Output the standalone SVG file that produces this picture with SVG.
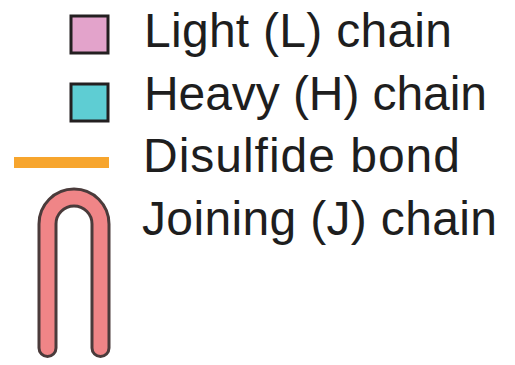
<svg xmlns="http://www.w3.org/2000/svg" width="515" height="365" viewBox="0 0 515 365">
  <style>
    .label { font-family: "Liberation Sans", Arial, sans-serif; font-size: 48px; fill: #1e1e1e; }
    .swatch { stroke: #231f20; stroke-width: 3; }
  </style>
  <rect width="515" height="365" fill="#ffffff"/>

  <!-- Light chain -->
  <g id="light-chain">
    <rect class="swatch" x="71" y="16" width="37" height="37" fill="#e3a3cb"/>
    <text class="label" x="144" y="47" textLength="308" lengthAdjust="spacing">Light (L) chain</text>
  </g>

  <!-- Heavy chain -->
  <g id="heavy-chain">
    <rect class="swatch" x="71" y="84" width="37" height="37" fill="#5ecdd3"/>
    <text class="label" x="144" y="110" textLength="343" lengthAdjust="spacing">Heavy (H) chain</text>
  </g>

  <!-- Disulfide bond -->
  <g id="disulfide-bond">
    <line x1="14" y1="162.5" x2="109" y2="162.5" stroke="#f7a52d" stroke-width="11"/>
    <text class="label" x="143" y="172" textLength="317" lengthAdjust="spacing">Disulfide bond</text>
  </g>

  <!-- Joining chain: U-shaped tube with dark outline -->
  <g id="joining-chain">
    <path d="M47.5 348 V224 A26.5 26.5 0 0 1 100.5 224 V348" fill="none" stroke="#4a3b3b" stroke-width="20" stroke-linecap="round"/>
    <path d="M47.5 348 V224 A26.5 26.5 0 0 1 100.5 224 V348" fill="none" stroke="#f08587" stroke-width="14" stroke-linecap="round"/>
    <text class="label" x="142" y="235" textLength="355" lengthAdjust="spacing">Joining (J) chain</text>
  </g>
</svg>
